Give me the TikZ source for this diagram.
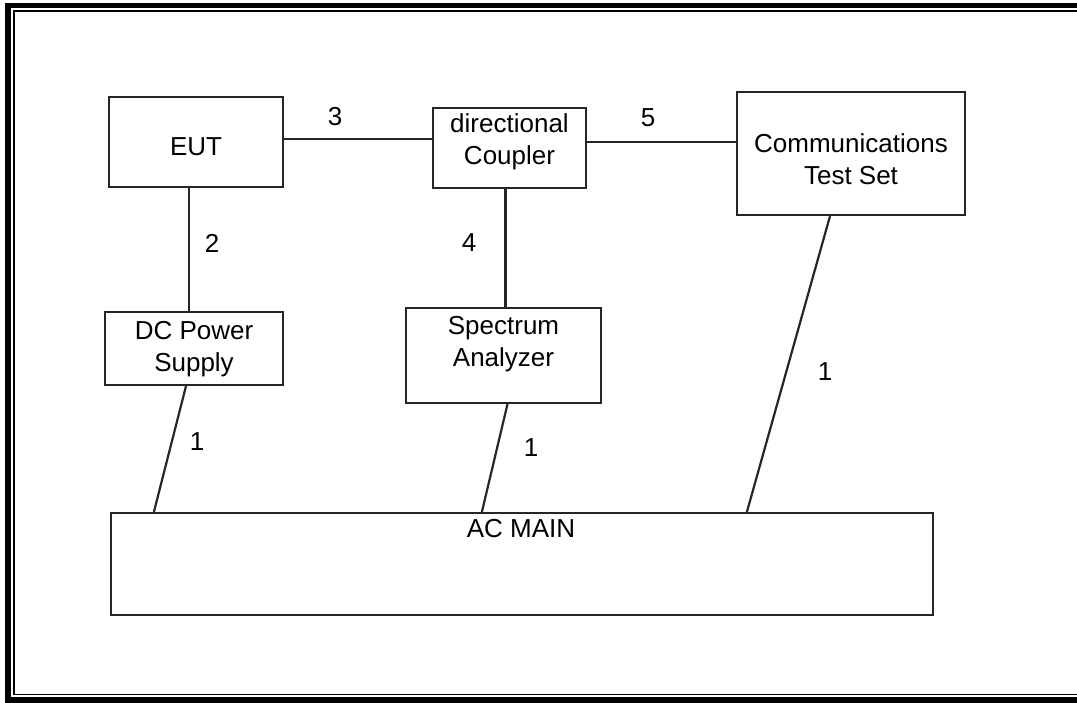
\documentclass[tikz,border=0pt]{standalone}
\usepackage{fontspec}
\setmainfont{Liberation Sans}
\usetikzlibrary{positioning}

\tikzset{
    blk/.style={draw, black!85, line width=2.2pt, inner sep=0pt},
    txt/.style={align=center, inner sep=0pt, font=\fontsize{26}{32}\selectfont},
    num/.style={inner sep=0pt, font=\fontsize{26}{32}\selectfont},
    wire/.style={black!85, line width=2.2pt}
}

\begin{document}
\begin{tikzpicture}[x=1pt, y=-1pt]
                        \useasboundingbox (0, 0) rectangle (1077, 702);
                        \clip (0, 0) rectangle (1077, 702);
                        \fill[white] (0, 0) rectangle (1077, 702);
                        % double frame
                        \draw[line width=5.6pt] (8, 5.4) rectangle (1095, 700);
                        \draw[line width=1.8pt] (13.7, 10.8) rectangle (1095, 694.5);

                        \node[blk, minimum width=174, minimum height=90] (eut) at (196, 142) {};
                        \node[blk, minimum width=153, minimum height=80] (dc) at (509.5, 148) {};
                        \node[blk, minimum width=228, minimum height=123] (cts) at (851, 153.5) {};
                        \node[blk, minimum width=178, minimum height=73] (ps) at (194, 348.5) {};
                        \node[blk, minimum width=195, minimum height=95] (sa) at (503.5, 355.5) {};
                        \node[blk, minimum width=822, minimum height=102] (ac) at (522, 564) {};

                        \node[txt] (eutt) at (196, 147) {EUT};
                        \node[txt] (dct) at (509.5, 142) {directional\\Coupler};
                        \node[txt] (ctst) at (851, 159) {Communications\\Test Set};
                        \node[txt] (pst) at (194, 349) {DC Power\\Supply};
                        \node[txt] (sat) at (503.5, 344) {Spectrum\\Analyzer};
                        \node[txt] (act) at (521, 529) {AC MAIN};

                        \draw[wire] ([yshift=3pt]eut.east) -- ([yshift=3pt]eut.east -| dc.west);
                        \draw[wire] ([yshift=6pt]dc.east) -- ([yshift=6pt]dc.east -| cts.west);
                        \draw[wire] ([xshift=-7pt]eut.south) -- ([xshift=-7pt]eut.south |- ps.north);
                        \draw[wire] ([xshift=-4pt]dc.south) -- ([xshift=-4pt]dc.south |- sa.north);
                        \draw[wire] ([xshift=-8pt]ps.south) -- ([xshift=44pt]ac.north west);
                        \draw[wire] ([xshift=4pt]sa.south) -- ([xshift=372pt]ac.north west);
                        \draw[wire] ([xshift=-21pt]cts.south) -- ([xshift=637pt]ac.north west);

                        \node[num] (l3) at (335, 117) {3};
                        \node[num] (l5) at (648, 118) {5};
                        \node[num] (l2) at (212, 243) {2};
                        \node[num] (l4) at (469, 243) {4};
                        \node[num] (l1a) at (197, 442) {1};
                        \node[num] (l1b) at (531, 448) {1};
                        \node[num] (l1c) at (825, 372) {1};
                    \end{tikzpicture}
\end{document}
